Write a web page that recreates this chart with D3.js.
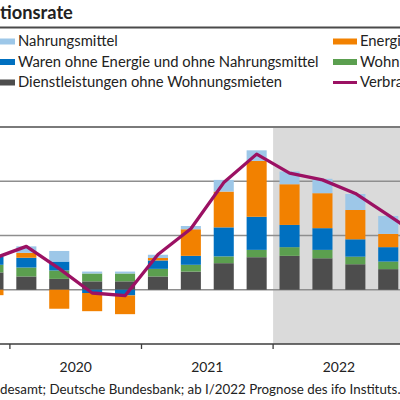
<!DOCTYPE html>
<html><head><meta charset="utf-8">
<script src="https://cdn.jsdelivr.net/npm/d3@7"></script>
<style>
body{margin:0;background:#fff}
svg{display:block}
text{font-family:Lato,"Noto Sans",sans-serif;fill:#222}
</style>
</head><body>
<svg id="c" width="400" height="400"></svg>
<script>
// ---- data (percentage-point contributions) ----
const quarters = ["IV/2019","I/2020","II/2020","III/2020","IV/2020","I/2021","II/2021","III/2021","IV/2021","I/2022","II/2022","III/2022","IV/2022"];
const lineQuarters = quarters.concat(["I/2023"]);
const dienstleistungen = [0.64,0.49,0.40,0.31,0.31,0.49,0.67,0.98,1.20,1.25,1.16,0.94,0.76];
const wohnungsmieten   = [0.28,0.33,0.31,0.29,0.29,0.28,0.25,0.25,0.27,0.32,0.31,0.28,0.28];
const waren            = [0.31,0.36,0.33,-0.12,-0.21,0.31,0.33,1.07,1.22,0.82,0.80,0.64,0.53];
const energie          = [-0.20,0.18,-0.70,-0.67,-0.69,0.09,0.98,1.32,2.06,1.50,1.29,1.08,0.49];
const nahrungsmittel   = [0.05,0.24,0.39,0.07,0.07,0.12,0.12,0.43,0.39,0.47,0.53,0.59,0.66];
const verbraucherpreisindex = [1.15,1.6,0.78,-0.12,-0.22,1.3,2.25,3.95,5.0,4.3,4.05,3.55,2.75,1.95];
const years = ["2020","2021","2022","2023"];
const yTicks = [0,2,4,6];
const forecastStart = "I/2022";
const title = "Inflationsrate";
const source = "Quelle: Statistisches Bundesamt; Deutsche Bundesbank; ab I/2022 Prognose des ifo Instituts.";

const keys = ["dienst","mieten","waren","energie","nahrung"];
const colors = {dienst:"#4d4d4d", mieten:"#5b9f4f", waren:"#0070c0", energie:"#f28100", nahrung:"#9dc7e8"};
const legendItems = [
  {label:"Nahrungsmittel", key:"nahrung", col:0, row:0},
  {label:"Energie", key:"energie", col:1, row:0},
  {label:"Waren ohne Energie und ohne Nahrungsmittel", key:"waren", col:0, row:1},
  {label:"Wohnungsmieten", key:"mieten", col:1, row:1},
  {label:"Dienstleistungen ohne Wohnungsmieten", key:"dienst", col:0, row:2},
  {label:"Verbraucherpreisindex", key:"line", col:1, row:2}
];
const lineColor = "#9b1163";

const table = quarters.map((q,i)=>({q, dienst:dienstleistungen[i], mieten:wohnungsmieten[i], waren:waren[i], energie:energie[i], nahrung:nahrungsmittel[i]}));

// ---- chart ----
const svg = d3.select("#c");
const W = 400;
const pi = 0.39;
const x = d3.scaleBand().domain(lineQuarters).range([-23, 437.6]).paddingInner(pi).paddingOuter(pi/2);
const y = d3.scaleLinear().domain([-2,6]).range([344,127]);
const boundary = q => x(q) - x.step()*pi/2;

// title
const t = svg.append("text").attr("y",18.5).attr("font-weight","bold").attr("font-size",17).text(title);
(function(){
  const n=t.node(); const pre=title.indexOf("tions");
  const w=n.getSubStringLength(pre,title.length-pre);
  const fs=17*73/w; t.attr("font-size",fs);
  t.attr("x",-n.getSubStringLength(0,pre));
})();
svg.append("line").attr("x1",0).attr("x2",W).attr("y1",27.5).attr("y2",27.5).attr("stroke","#4a4a4a").attr("stroke-width",2);

// legend
const lg = svg.append("g");
const rowY = r => 41.5 + r*20.5;
const colX = [-9, 333];
const lt = lg.selectAll("g").data(legendItems).join("g");
lt.each(function(d){
  const g=d3.select(this);
  if(d.key==="line"){
    g.append("line").attr("x1",colX[d.col]).attr("x2",colX[d.col]+24).attr("y1",rowY(d.row)).attr("y2",rowY(d.row)).attr("stroke",lineColor).attr("stroke-width",3);
  } else {
    g.append("rect").attr("x",colX[d.col]).attr("y",rowY(d.row)-3).attr("width",24).attr("height",6).attr("fill",colors[d.key]);
  }
  g.append("text").attr("class","lgt").attr("x",colX[d.col]+27).attr("y",rowY(d.row)+4.5).attr("font-size",14).text(d.label);
});
(function(){
  const n=lg.selectAll(".lgt").filter(d=>d.key==="waren").node();
  const fs=14*301/n.getComputedTextLength();
  lg.selectAll(".lgt").attr("font-size",fs);
})();

// forecast shading
const xf = boundary(forecastStart);
svg.append("rect").attr("x",xf).attr("y",y(6)).attr("width",W-xf+50).attr("height",y(-2)-y(6)).attr("fill","#dadada");

// gridlines
svg.append("g").selectAll("line").data(yTicks).join("line")
  .attr("x1",0).attr("x2",W).attr("y1",d=>y(d)).attr("y2",d=>y(d))
  .attr("stroke",d=>d===6?"#7a7a7a":"#8e8e8e").attr("stroke-width",d=>d===6?1.8:1.3);

// bars
const stack = d3.stack().keys(keys).offset(d3.stackOffsetDiverging);
const series = stack(table);
svg.append("g").selectAll("g").data(series).join("g").attr("fill",s=>colors[s.key])
  .selectAll("rect").data(s=>s).join("rect")
  .attr("x",d=>x(d.data.q)).attr("width",x.bandwidth())
  .attr("y",d=>y(Math.max(d[0],d[1]))).attr("height",d=>Math.abs(y(d[0])-y(d[1])));

// x axis
svg.append("line").attr("x1",0).attr("x2",W).attr("y1",y(-2)).attr("y2",y(-2)).attr("stroke","#3c3c3c").attr("stroke-width",1.5);
const yearStart = yr => boundary("I/"+yr);
svg.append("g").selectAll("line").data(years).join("line")
  .attr("x1",d=>yearStart(d)).attr("x2",d=>yearStart(d)).attr("y1",y(-2)).attr("y2",y(-2)+5)
  .attr("stroke","#3c3c3c").attr("stroke-width",1.3);
const yl = svg.append("g").selectAll("text").data(years.slice(0,3)).join("text")
  .attr("x",d=>yearStart(d)+2*x.step()).attr("y",372).attr("text-anchor","middle").attr("font-size",15).text(d=>d);
(function(){const n=yl.node(); yl.attr("font-size",15*32.3/n.getComputedTextLength());})();

// line
svg.append("path").datum(verbraucherpreisindex)
  .attr("d", d3.line().x((d,i)=>x(lineQuarters[i])+x.bandwidth()/2).y(d=>y(d)))
  .attr("fill","none").attr("stroke",lineColor).attr("stroke-width",3.3).attr("stroke-linejoin","round");

// source
const st = svg.append("text").attr("y",394).attr("font-size",14).text(source);
(function(){
  const n=st.node(); const a=source.indexOf("desamt"); const b=source.indexOf("Instituts")+9;
  const fs=14*398/n.getSubStringLength(a,b-a); st.attr("font-size",fs);
  st.attr("x",-n.getSubStringLength(0,a));
})();
</script>
</body></html>
